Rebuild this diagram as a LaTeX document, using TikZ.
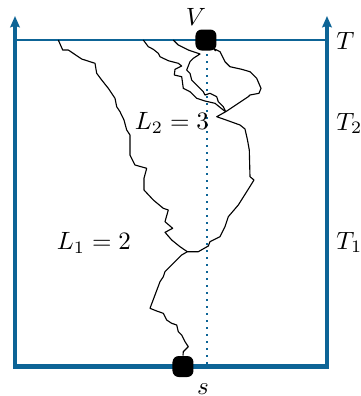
\documentclass[tikz,border=0pt]{standalone}
\usetikzlibrary{arrows.meta}
\definecolor{axisblue}{HTML}{0D6496}
\begin{document}
\begin{tikzpicture}[x=0.4pt,y=-0.4pt,
  axis/.style={draw=axisblue,line width=1.3pt,-{Stealth[length=4.5pt,width=3.8pt,inset=0.6pt]}},
  walk/.style={draw=black,line width=0.45pt,line join=round},
  site/.style={fill=black,rounded corners=2.5pt,minimum size=8.4pt,inner sep=0pt},
  lab/.style={inner sep=0pt}]
\useasboundingbox (0,0) rectangle (361,396);
% frame
\coordinate (bl) at (15,366.7);
\coordinate (br) at (327,366.7);
\coordinate (lt) at (15,16);
\coordinate (rt) at (327,16);
\coordinate (tl) at (15,40);
\coordinate (tr) at (327,40);
\coordinate (dt) at (207,40);
\coordinate (db) at (207,366);
\draw[axisblue,dash pattern=on 0.8pt off 2pt,line width=0.6pt] (dt) -- (db);
\draw[axis] (bl) -- (lt);
\draw[axis] (br) -- (rt);
\draw[axisblue,line width=0.8pt] (tl) -- (tr);
\draw[axisblue,line width=1.8pt] ([xshift=-0.65pt]bl) -- ([xshift=0.65pt]br);
% sites
\node[site] (V) at (206,40) {};
\node[site] (s) at (183,366.5) {};
% junctions
\coordinate (J) at (187.3,251.7);
\coordinate (K) at (225.7,111.7);
\coordinate (a) at (58.3,40);
\coordinate (b) at (143.3,40);
\coordinate (c) at (173.3,40);
% main walk from s to V
\draw[walk] (s.north) -- (183.3,351.7) -- (188.3,346.7) -- (185,341.7) -- (181.7,335) -- (178.3,331.7)
  -- (176.7,325) -- (171.7,323.3) -- (166.7,320) -- (163.3,313.3) -- (156.7,311) -- (150,308.3)
  -- (155,295) -- (160,281.7) -- (163.3,276.7) -- (165,271.7) -- (173.3,263.3) -- (181.7,255) -- (J)
  -- (198.3,251.7) -- (208.3,246) -- (210,241.7) -- (220,236.7) -- (225,226.7) -- (228.3,216.7)
  -- (238.3,205) -- (246.7,191.7) -- (254,180) -- (250,176.7) -- (249.3,150) -- (247.5,140)
  -- (245,129) -- (240,125) -- (231.7,122) -- (223.3,119) -- (216.7,116.7) -- (K)
  -- (248.3,96.7) -- (250,95) -- (259,93.3) -- (261,88.3) -- (256.7,78.3) -- (250,71.7)
  -- (241.7,69.3) -- (230,66.7) -- (225,61.7) -- (220,51.7) -- (213.3,48.3) -- (V);
% left walk
\draw[walk] (a) -- (62.7,50) -- (68.3,50) -- (81.7,59) -- (95,63.3) -- (96.7,73.3) -- (101.7,80)
  -- (108.3,88.3) -- (115,98.3) -- (116.7,106.7) -- (120,111.7) -- (124,120) -- (126.7,130)
  -- (130,135) -- (130,155) -- (135,165) -- (146.7,168.3) -- (144,178.3) -- (144,190)
  -- (153.3,200) -- (163.3,208.3) -- (168.3,210) -- (165,221.7) -- (172.7,228.3) -- (165,232.3)
  -- (171.7,240) -- (180,246.7) -- (J);
% walk B
\draw[walk] (b) -- (148.3,46.7) -- (153.3,49.3) -- (158.3,53.3) -- (160,56.7) -- (168.3,60.7)
  -- (178.3,63.3) -- (181.7,66) -- (175,69.3) -- (174.3,75) -- (181.7,76.7) -- (183.3,88.3)
  -- (190,91.7) -- (196.7,98.3) -- (205,101) -- (215,103.3) -- (223.3,110) -- (K);
% walk C
\draw[walk] (c) -- (178.3,45) -- (188.3,50) -- (200,54) -- (193.3,58.3) -- (190,61.7) -- (186.7,70)
  -- (190,73.3) -- (191.7,80) -- (198.3,86.7) -- (203.3,91.7) -- (205,95) -- (210,93.3)
  -- (216.7,96.7) -- (218.3,101.7) -- (223.3,106.7) -- (K);
% labels
\node[lab,anchor=base] (Vl) at (196,25) {$V$};
\node[lab,anchor=base] (sl) at (203,394) {$s$};
\node[lab,anchor=base west] (Tl) at (336,49) {$T$};
\node[lab,anchor=base west] (T2) at (336,130) {$T_2$};
\node[lab,anchor=base west] (T1) at (336,249) {$T_1$};
\node[lab,anchor=base] (L2) at (172,129.5) {$L_2=3$};
\node[lab,anchor=base] (L1) at (94,249.5) {$L_1=2$};
\end{tikzpicture}
\end{document}
